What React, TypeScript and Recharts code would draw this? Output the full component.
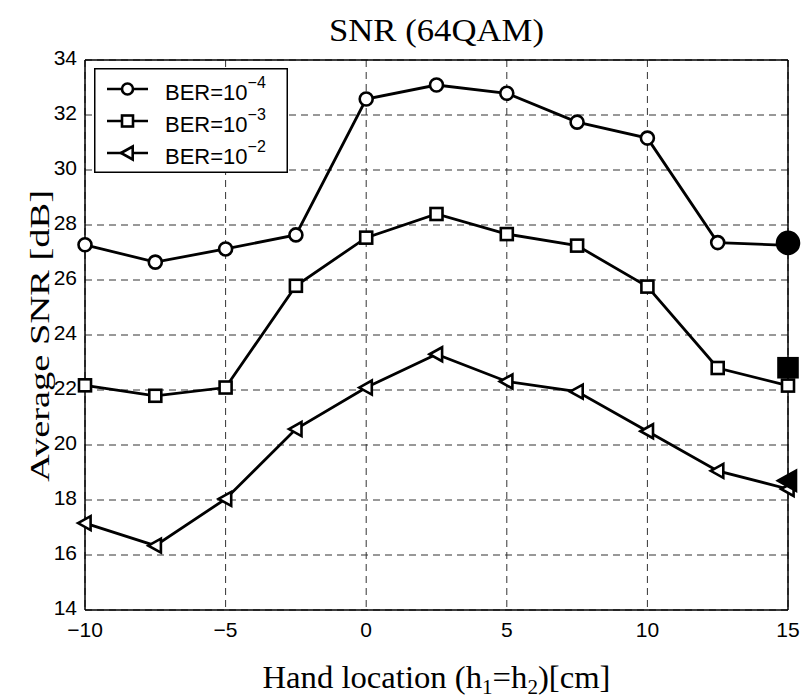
import React from "react"
import { ComposedChart, Line, XAxis, YAxis, CartesianGrid, ReferenceLine, Legend } from "recharts"

// Hand location [cm]
const handLocations = [-10, -7.5, -5, -2.5, 0, 2.5, 5, 7.5, 10, 12.5, 15]

// Average SNR [dB] per BER target
const ber4 = [27.28, 26.65, 27.13, 27.64, 32.58, 33.09, 32.79, 31.74, 31.16, 27.36, 27.26]
const ber3 = [22.17, 21.79, 22.09, 25.79, 27.54, 28.4, 27.67, 27.25, 25.76, 22.8, 22.16]
const ber2 = [17.16, 16.34, 18.04, 20.58, 22.09, 23.3, 22.31, 21.94, 20.5, 19.06, 18.4]

// filled markers at the last location
const filledAt = 15
const filled4 = 27.35
const filled3 = 22.81
const filled2 = 18.7

const xTicks = [-10, -5, 0, 5, 10, 15]
const yTicks = [14, 16, 18, 20, 22, 24, 26, 28, 30, 32, 34]

const data = handLocations.map((x, i) => ({
  x,
  ber4: ber4[i],
  ber3: ber3[i],
  ber2: ber2[i],
  f4: x === filledAt ? filled4 : null,
  f3: x === filledAt ? filled3 : null,
  f2: x === filledAt ? filled2 : null,
}))

const SANS = "'Liberation Sans', Arial, sans-serif"
const SERIF = "'Liberation Serif', 'Times New Roman', serif"

function circle(cx: number, cy: number, r: number, fill: string, key?: any) {
  return <circle key={key} cx={cx} cy={cy} r={r} fill={fill} stroke="#000" strokeWidth={2.6} />
}
function square(cx: number, cy: number, s: number, fill: string, key?: any) {
  return <rect key={key} x={cx - s / 2} y={cy - s / 2} width={s} height={s} fill={fill} stroke="#000" strokeWidth={2.6} />
}
function triangle(cx: number, cy: number, s: number, fill: string, key?: any) {
  const pts = `${cx - s},${cy} ${cx + s * 0.8},${cy - s} ${cx + s * 0.8},${cy + s}`
  return <polygon key={key} points={pts} fill={fill} stroke="#000" strokeWidth={2.6} strokeLinejoin="miter" />
}

const makeDot = (kind: string, filled: boolean) => (props: any) => {
  const { cx, cy, index, value } = props
  if (cy == null || value == null || cx == null) return <g key={index} />
  if (kind === "c") return filled ? circle(cx, cy, 11, "#000", index) : circle(cx, cy, 6.5, "#fff", index)
  if (kind === "s") return filled ? square(cx, cy, 19, "#000", index) : square(cx, cy, 12, "#fff", index)
  return filled ? triangle(cx, cy, 10, "#000", index) : triangle(cx, cy, 7, "#fff", index)
}

const legendItems = [
  { kind: "c", exp: "−4" },
  { kind: "s", exp: "−3" },
  { kind: "t", exp: "−2" },
]

function LegendBox() {
  return (
    <svg width={194} height={105} style={{ display: "block" }}>
      <rect x={0.75} y={0.75} width={192.5} height={103.5} fill="#fff" stroke="#000" strokeWidth={1.5} />
      {legendItems.map((it, i) => {
        const cy = 21 + i * 32
        return (
          <g key={it.kind}>
            <line x1={13} x2={54} y1={cy} y2={cy} stroke="#000" strokeWidth={2.6} />
            {it.kind === "c" ? circle(33.5, cy, 5.5, "#fff") : it.kind === "s" ? square(33.5, cy, 11, "#fff") : triangle(33.5, cy, 6.5, "#fff")}
            <text x={71} y={cy + 11} fontFamily={SANS} fontSize={22} fill="#000">
              BER=10
              <tspan dy={-12} fontSize={16}>{it.exp}</tspan>
            </text>
          </g>
        )
      })}
    </svg>
  )
}

const XLabel = (props: any) => {
  const vb = props.viewBox
  return (
    <text x={vb.x + vb.width / 2} y={688} textAnchor="middle" fontFamily={SERIF} fontSize={31} fill="#000" textLength={348} lengthAdjust="spacingAndGlyphs">
      Hand location (h<tspan dy={6} fontSize={20}>1</tspan>
      <tspan dy={-6}>=h</tspan>
      <tspan dy={6} fontSize={20}>2</tspan>
      <tspan dy={-6}>)[cm]</tspan>
    </text>
  )
}

const YLabel = () => (
  <text x={39} y={336} transform="rotate(-90 39 336)" textAnchor="middle" dominantBaseline="central" fontFamily={SERIF} fontSize={28} fill="#000" textLength={292} lengthAdjust="spacingAndGlyphs">
    Average SNR [dB]
  </text>
)

export default function App() {
  return (
    <div style={{ position: "absolute", left: 0, top: 0, width: 803, height: 700, background: "#fff" }}>
      <svg width={803} height={50} style={{ position: "absolute", left: 0, top: 0 }}>
        <text x={436.5} y={41} textAnchor="middle" fontFamily={SERIF} fontSize={31} fill="#000" textLength={215} lengthAdjust="spacingAndGlyphs">
          SNR (64QAM)
        </text>
      </svg>
      <ComposedChart width={803} height={700} data={data} margin={{ top: 60, right: 15, bottom: 50, left: 45 }}>
        <CartesianGrid stroke="#333" strokeDasharray="7 5" strokeWidth={1} />
        <XAxis
          dataKey="x"
          type="number"
          domain={[-10, 15]}
          ticks={xTicks}
          height={40}
          tickSize={0}
          tickMargin={12}
          tickLine={false}
          axisLine={{ stroke: "#000", strokeWidth: 1.5 }}
          tick={{ fill: "#000", fontSize: 21, fontFamily: SANS }}
          tickFormatter={(v: number) => (v < 0 ? `−${Math.abs(v)}` : `${v}`)}
          label={<XLabel />}
        />
        <YAxis
          type="number"
          domain={[14, 34]}
          ticks={yTicks}
          width={40}
          tickSize={0}
          tickMargin={8}
          tickLine={false}
          axisLine={{ stroke: "#000", strokeWidth: 1.5 }}
          tick={{ fill: "#000", fontSize: 21, fontFamily: SANS, dy: -2 }}
          label={<YLabel />}
        />
        <ReferenceLine y={34} stroke="#000" strokeWidth={1.5} />
        <ReferenceLine x={15} stroke="#000" strokeWidth={1.5} />
        <Line dataKey="ber4" stroke="#000" strokeWidth={2.8} dot={makeDot("c", false)} isAnimationActive={false} />
        <Line dataKey="ber3" stroke="#000" strokeWidth={2.8} dot={makeDot("s", false)} isAnimationActive={false} />
        <Line dataKey="ber2" stroke="#000" strokeWidth={2.8} dot={makeDot("t", false)} isAnimationActive={false} />
        <Line dataKey="f4" stroke="none" dot={makeDot("c", true)} isAnimationActive={false} legendType="none" />
        <Line dataKey="f3" stroke="none" dot={makeDot("s", true)} isAnimationActive={false} legendType="none" />
        <Line dataKey="f2" stroke="none" dot={makeDot("t", true)} isAnimationActive={false} legendType="none" />
        <Legend
          layout="vertical"
          align="center"
          verticalAlign="middle"
          content={() => <LegendBox />}
          wrapperStyle={{ left: 94, top: 68, width: 194, height: 105 }}
        />
      </ComposedChart>
    </div>
  )
}
